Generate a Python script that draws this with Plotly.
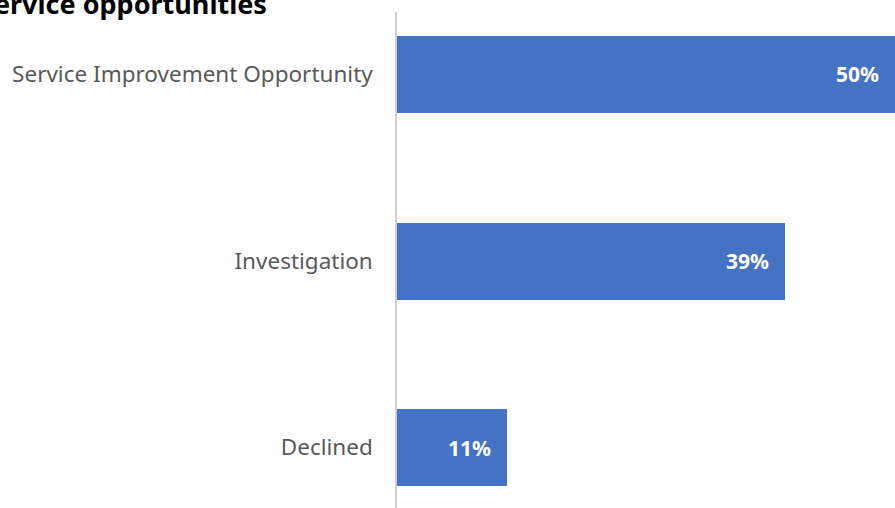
import plotly.graph_objects as go

# Outcome categories, top to bottom, and their share of cases (%)
categories = ["Service Improvement Opportunity", "Investigation", "Declined"]
shares = [50, 39, 11]
share_labels = [f"{v}%" for v in shares]

BAR_COLOR = "#4472C4"
FONT = "Noto Sans"

fig = go.Figure(
    go.Bar(
        x=shares,
        y=categories,
        orientation="h",
        marker=dict(color=BAR_COLOR, line=dict(width=0)),
        width=0.413,
        hoverinfo="skip",
    )
)

# Value labels just inside the end of each bar
for cat, val, lab in zip(categories, shares, share_labels):
    fig.add_annotation(
        x=val, y=cat, xref="x", yref="y",
        text=f"<b>{lab}</b>", showarrow=False,
        xanchor="right", yanchor="middle", xshift=-14,
        font=dict(family=FONT, size=21, color="white"),
    )

# Chart heading
fig.add_annotation(
    x=-0.844, y=1.0, xref="paper", yref="paper",
    text="<b>Service opportunities</b>", showarrow=False,
    xanchor="left", yanchor="bottom", yshift=-12,
    font=dict(family=FONT, size=27, color="black"),
)

fig.update_layout(
    width=895, height=508,
    margin=dict(l=397, r=0, t=12, b=0),
    paper_bgcolor="white", plot_bgcolor="white",
    showlegend=False,
    bargap=0,
    xaxis=dict(
        range=[0, 50.02], visible=False, showgrid=False, zeroline=False,
    ),
    yaxis=dict(
        type="category",
        categoryorder="array", categoryarray=categories,
        range=[2.324, -0.335],
        showline=True, linecolor="#d0d0d0", linewidth=1.5,
        showgrid=False, zeroline=False, ticks="",
        ticklabelstandoff=18,
        tickfont=dict(family=FONT, size=22.5, color="#595959"),
    ),
)

fig.write_html("out.html")
